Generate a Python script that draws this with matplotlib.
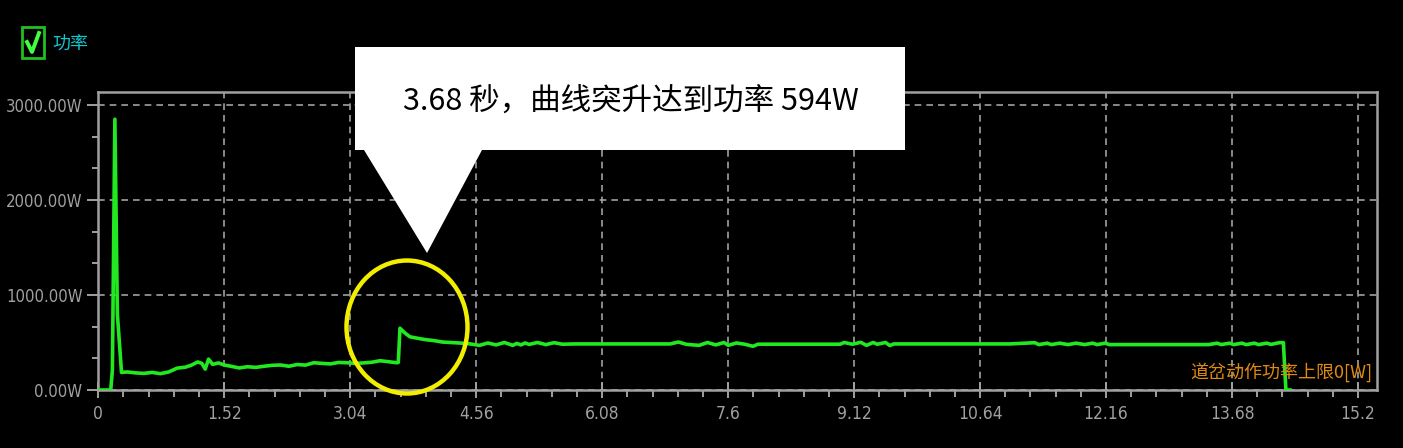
import matplotlib
matplotlib.use("Agg")
import matplotlib.pyplot as plt
from matplotlib.ticker import MultipleLocator
from matplotlib.patches import Rectangle, Polygon, Ellipse
from matplotlib.lines import Line2D
from matplotlib import font_manager

# ---------------- data ----------------
time_s = [0.00, 0.15, 0.17, 0.20, 0.23, 0.28, 0.35, 0.45, 0.55, 0.65, 0.75, 0.85,
          0.95, 1.05, 1.12, 1.20, 1.25, 1.29, 1.33, 1.38, 1.45, 1.52, 1.60, 1.70,
          1.80, 1.90, 2.00, 2.10, 2.20, 2.30, 2.40, 2.50, 2.60, 2.70, 2.80, 2.90,
          3.00, 3.10, 3.20, 3.30, 3.40, 3.50, 3.60, 3.62, 3.64, 3.70, 3.76, 3.85,
          3.95, 4.05, 4.15, 4.25, 4.35, 4.45, 4.60, 4.70, 4.80, 4.90, 5.00, 5.05,
          5.10, 5.15, 5.20, 5.30, 5.40, 5.50, 5.60, 5.75, 6.50, 6.90, 7.00, 7.10,
          7.25, 7.35, 7.45, 7.55, 7.60, 7.70, 7.80, 7.90, 7.96, 8.50, 8.95, 9.00,
          9.10, 9.20, 9.27, 9.35, 9.40, 9.50, 9.55, 9.60, 10.00, 10.50, 11.00, 11.30,
          11.35, 11.45, 11.50, 11.60, 11.70, 11.80, 11.90, 12.00, 12.05, 12.15, 12.20,
          12.60, 13.00, 13.40, 13.50, 13.55, 13.65, 13.70, 13.80, 13.85, 13.95, 14.00,
          14.10, 14.15, 14.25, 14.30, 14.33, 14.38]
power_w = [0, 0, 210, 2850, 800, 185, 190, 180, 175, 185, 172, 190,
           230, 240, 260, 295, 280, 220, 325, 270, 285, 263, 250, 232,
           245, 238, 250, 260, 263, 250, 268, 262, 287, 280, 275, 290,
           287, 280, 285, 292, 308, 298, 287, 290, 650, 600, 560, 545,
           530, 520, 505, 500, 495, 490, 470, 495, 475, 500, 470, 490,
           475, 495, 480, 500, 478, 498, 482, 485, 485, 485, 505, 480,
           470, 500, 475, 500, 470, 495, 482, 460, 482, 482, 482, 500,
           482, 502, 470, 500, 482, 500, 468, 485, 485, 485, 485, 498,
           478, 493, 478, 493, 478, 493, 478, 493, 478, 493, 478,
           478, 478, 478, 493, 478, 493, 478, 493, 478, 493, 478,
           493, 480, 498, 498, 0, 0]

x_ticks = [0, 1.52, 3.04, 4.56, 6.08, 7.6, 9.12, 10.64, 12.16, 13.68, 15.2]
x_labels = ["0", "1.52", "3.04", "4.56", "6.08", "7.6", "9.12", "10.64", "12.16", "13.68", "15.2"]
y_ticks = [0, 1000, 2000, 3000]
y_labels = ["0.00W", "1000.00W", "2000.00W", "3000.00W"]

legend_label = "功率"
limit_label = "道岔动作功率上限0[W]"
callout_text = "3.68 秒，曲线突升达到功率 594W"

# ---------------- style ----------------
W, H = 1403, 448
has_condensed = any(f.name == "DejaVu Sans" and str(f.stretch) in ("condensed", "semi-condensed")
                    for f in font_manager.fontManager.ttflist)
if has_condensed:
    stretch = "condensed"
    ysize, xsize = 12, 12.5
else:
    stretch = "normal"
    ysize, xsize = 10.5, 11.5
cjk = ["Noto Sans CJK SC", "DejaVu Sans"]
gray = "#a0a0a0"
green = "#22e822"

def fx(px):
    return px / W

def fy(py):
    return 1 - py / H

fig = plt.figure(figsize=(W / 100, H / 100), dpi=100, facecolor="black")
left_px, right_px, top_px, bot_px = 98.3, 1377, 91.7, 390
ax = fig.add_axes([fx(left_px), fy(bot_px), (right_px - left_px) / W, (bot_px - top_px) / H])
ax.set_facecolor("black")

ax.plot(time_s, power_w, color=green, lw=2.6, solid_joinstyle="round", zorder=3)

px_per_unit = (1358 - 98.3) / 15.2
ax.set_xlim(0, (right_px - left_px) / px_per_unit)
ax.set_ylim(0, 3000 * (bot_px - top_px) / (390 - 105))

ax.set_xticks(x_ticks)
ax.set_xticklabels(x_labels)
ax.set_yticks(y_ticks)
ax.set_yticklabels(y_labels)
ax.xaxis.set_minor_locator(MultipleLocator(0.304))
ax.yaxis.set_minor_locator(MultipleLocator(1000 / 3))

for lab in ax.get_xticklabels():
    lab.set_fontfamily("DejaVu Sans")
    lab.set_fontstretch(stretch)
    lab.set_fontsize(xsize)
    lab.set_color(gray)
for lab in ax.get_yticklabels():
    lab.set_fontfamily("DejaVu Sans")
    lab.set_fontstretch(stretch)
    lab.set_fontsize(ysize)
    lab.set_color(gray)

ax.tick_params(axis="x", which="major", direction="inout", length=12, width=1.4, color=gray, pad=5)
ax.tick_params(axis="x", which="minor", direction="out", length=5, width=1.4, color=gray)
ax.tick_params(axis="y", which="major", direction="out", length=8, width=1.4, color=gray, pad=3.5)
ax.tick_params(axis="y", which="minor", direction="out", length=4, width=1.4, color=gray)

for s in ax.spines.values():
    s.set_color(gray)
    s.set_linewidth(1.8)

ax.grid(which="major", color=gray, linestyle=(0, (4, 3)), linewidth=1.2, zorder=1)
ax.set_axisbelow(True)

# limit label (orange) inside plot at bottom right
fig.text(fx(1372), fy(372), limit_label, family=cjk, fontsize=13, color="#e08a10",
         ha="right", va="center")

# legend: checkbox + label
fig.patches.append(Rectangle((fx(22), fy(58)), 22 / W, 31 / H, transform=fig.transFigure,
                             fill=False, edgecolor="#20c020", lw=2))
fig.lines.append(Line2D([fx(27), fx(32), fx(39)], [fy(42), fy(52), fy(33)],
                        transform=fig.transFigure, color="#40ff40", lw=2.8))
fig.text(fx(52), fy(45), legend_label, family=cjk, fontsize=13, color="#10c8d0",
         ha="left", va="center")

# yellow circle
fig.patches.append(Ellipse((fx(407), fy(327)), 121 / W, 133 / H, transform=fig.transFigure,
                           fill=False, edgecolor="#f2ee00", lw=3.2, zorder=5))

# white callout
box = Polygon([(fx(355), fy(47)), (fx(905), fy(47)), (fx(905), fy(150)), (fx(482), fy(150)),
               (fx(427), fy(253)), (fx(364), fy(150)), (fx(355), fy(150))],
              closed=True, transform=fig.transFigure, facecolor="white", edgecolor="none", zorder=6)
fig.patches.append(box)
fig.text(fx(631), fy(101), callout_text, family=["Noto Sans CJK SC", "DejaVu Sans"], fontsize=22,
         color="black", ha="center", va="center", zorder=7)

fig.savefig("out.png", dpi=100, facecolor="black")
